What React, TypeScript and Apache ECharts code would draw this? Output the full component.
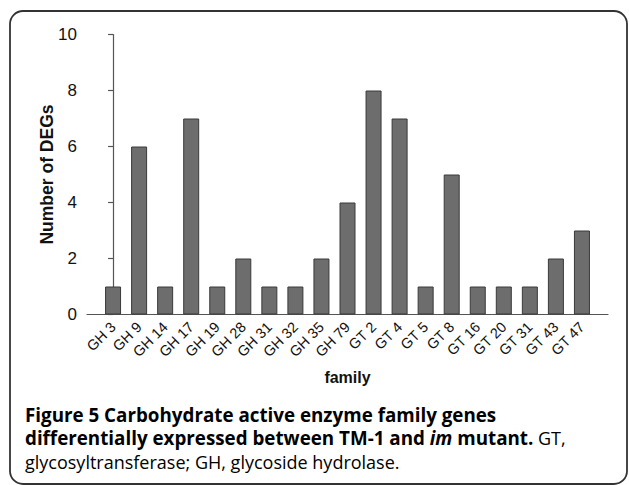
import React, { useEffect, useRef } from "react";
import * as echarts from "echarts";

const categories = ["GH 3", "GH 9", "GH 14", "GH 17", "GH 19", "GH 28", "GH 31", "GH 32", "GH 35", "GH 79", "GT 2", "GT 4", "GT 5", "GT 8", "GT 16", "GT 20", "GT 31", "GT 43", "GT 47"];
const degCounts = [1, 6, 1, 7, 1, 2, 1, 1, 2, 4, 8, 7, 1, 5, 1, 1, 1, 2, 3];
const yTicks = [0, 2, 4, 6, 8, 10];

const CAPTION_FONT = "'Open Sans', 'Noto Sans', sans-serif";
const AXIS_FONT = "'Liberation Sans', Arial, sans-serif";

export default function App() {
  const ref = useRef<HTMLDivElement>(null);
  useEffect(() => {
    document.body.style.margin = "0";
    const chart = echarts.init(ref.current!, null, { renderer: "svg" });
    const rich = {
      b: { fontFamily: CAPTION_FONT, fontWeight: "bold", fontSize: 18.8, lineHeight: 23.5, color: "#231f20" },
      i: { fontFamily: CAPTION_FONT, fontWeight: "bold", fontStyle: "italic", fontSize: 18.8, lineHeight: 23.5, color: "#231f20" },
      n: { fontFamily: CAPTION_FONT, fontWeight: "normal", fontSize: 18, lineHeight: 23.5, color: "#58595b" },
    };
    chart.setOption({
      animation: false,
      backgroundColor: "#ffffff",
      grid: { left: 87, top: 34.5, right: 21, bottom: 170.5, containLabel: false, outerBoundsMode: "none" },
      xAxis: {
        type: "value",
        min: -1,
        max: 19,
        interval: 1,
        name: "family",
        nameLocation: "middle",
        nameGap: 55,
        nameMoveOverlap: false,
        nameTextStyle: { fontFamily: AXIS_FONT, fontWeight: "bold", fontSize: 16, color: "#111" },
        axisLine: { show: true, lineStyle: { color: "#555", width: 1.2 } },
        axisTick: { show: false },
        splitLine: { show: false },
        axisLabel: {
          rotate: 45,
          margin: 10,
          fontFamily: AXIS_FONT,
          fontSize: 14.5,
          color: "#111",
          hideOverlap: false,
          formatter: (v: number) => (Number.isInteger(v) && categories[v] !== undefined ? categories[v] : ""),
        },
      },
      yAxis: {
        type: "value",
        min: yTicks[0],
        max: yTicks[yTicks.length - 1],
        interval: 2,
        name: "Number of DEGs",
        nameLocation: "middle",
        nameGap: 31,
        nameMoveOverlap: false,
        nameTextStyle: { fontFamily: AXIS_FONT, fontWeight: "bold", fontSize: 17.5, color: "#111" },
        axisLine: { show: true, lineStyle: { color: "#555", width: 1.2 } },
        axisTick: { show: true, inside: false, length: 5, lineStyle: { color: "#555", width: 1.2 } },
        splitLine: { show: false },
        axisLabel: { margin: 10, fontFamily: AXIS_FONT, fontSize: 17, color: "#111" },
      },
      series: [
        {
          type: "bar",
          data: degCounts.map((v, i) => [i, v]),
          barWidth: 16,
          itemStyle: { color: "#6d6d6d", borderColor: "#3a3a3a", borderWidth: 1 },
        },
      ],
      graphic: [
        {
          type: "rect",
          shape: { x: 10, y: 11, width: 617, height: 473, r: 13 },
          style: { fill: "none", stroke: "#333", lineWidth: 1.8 },
          silent: true,
        },
        {
          type: "text",
          left: 25,
          top: 405,
          style: {
            text:
              "{b|Figure 5 Carbohydrate active enzyme family genes}\n" +
              "{b|differentially expressed between TM-1 and }{i|im}{b| mutant.}{n| GT,}\n" +
              "{n|glycosyltransferase; GH, glycoside hydrolase.}",
            rich,
          },
        },
      ],
    });
    return () => chart.dispose();
  }, []);
  return <div ref={ref} style={{ position: "absolute", left: 0, top: 0, width: 629, height: 485 }} />;
}
